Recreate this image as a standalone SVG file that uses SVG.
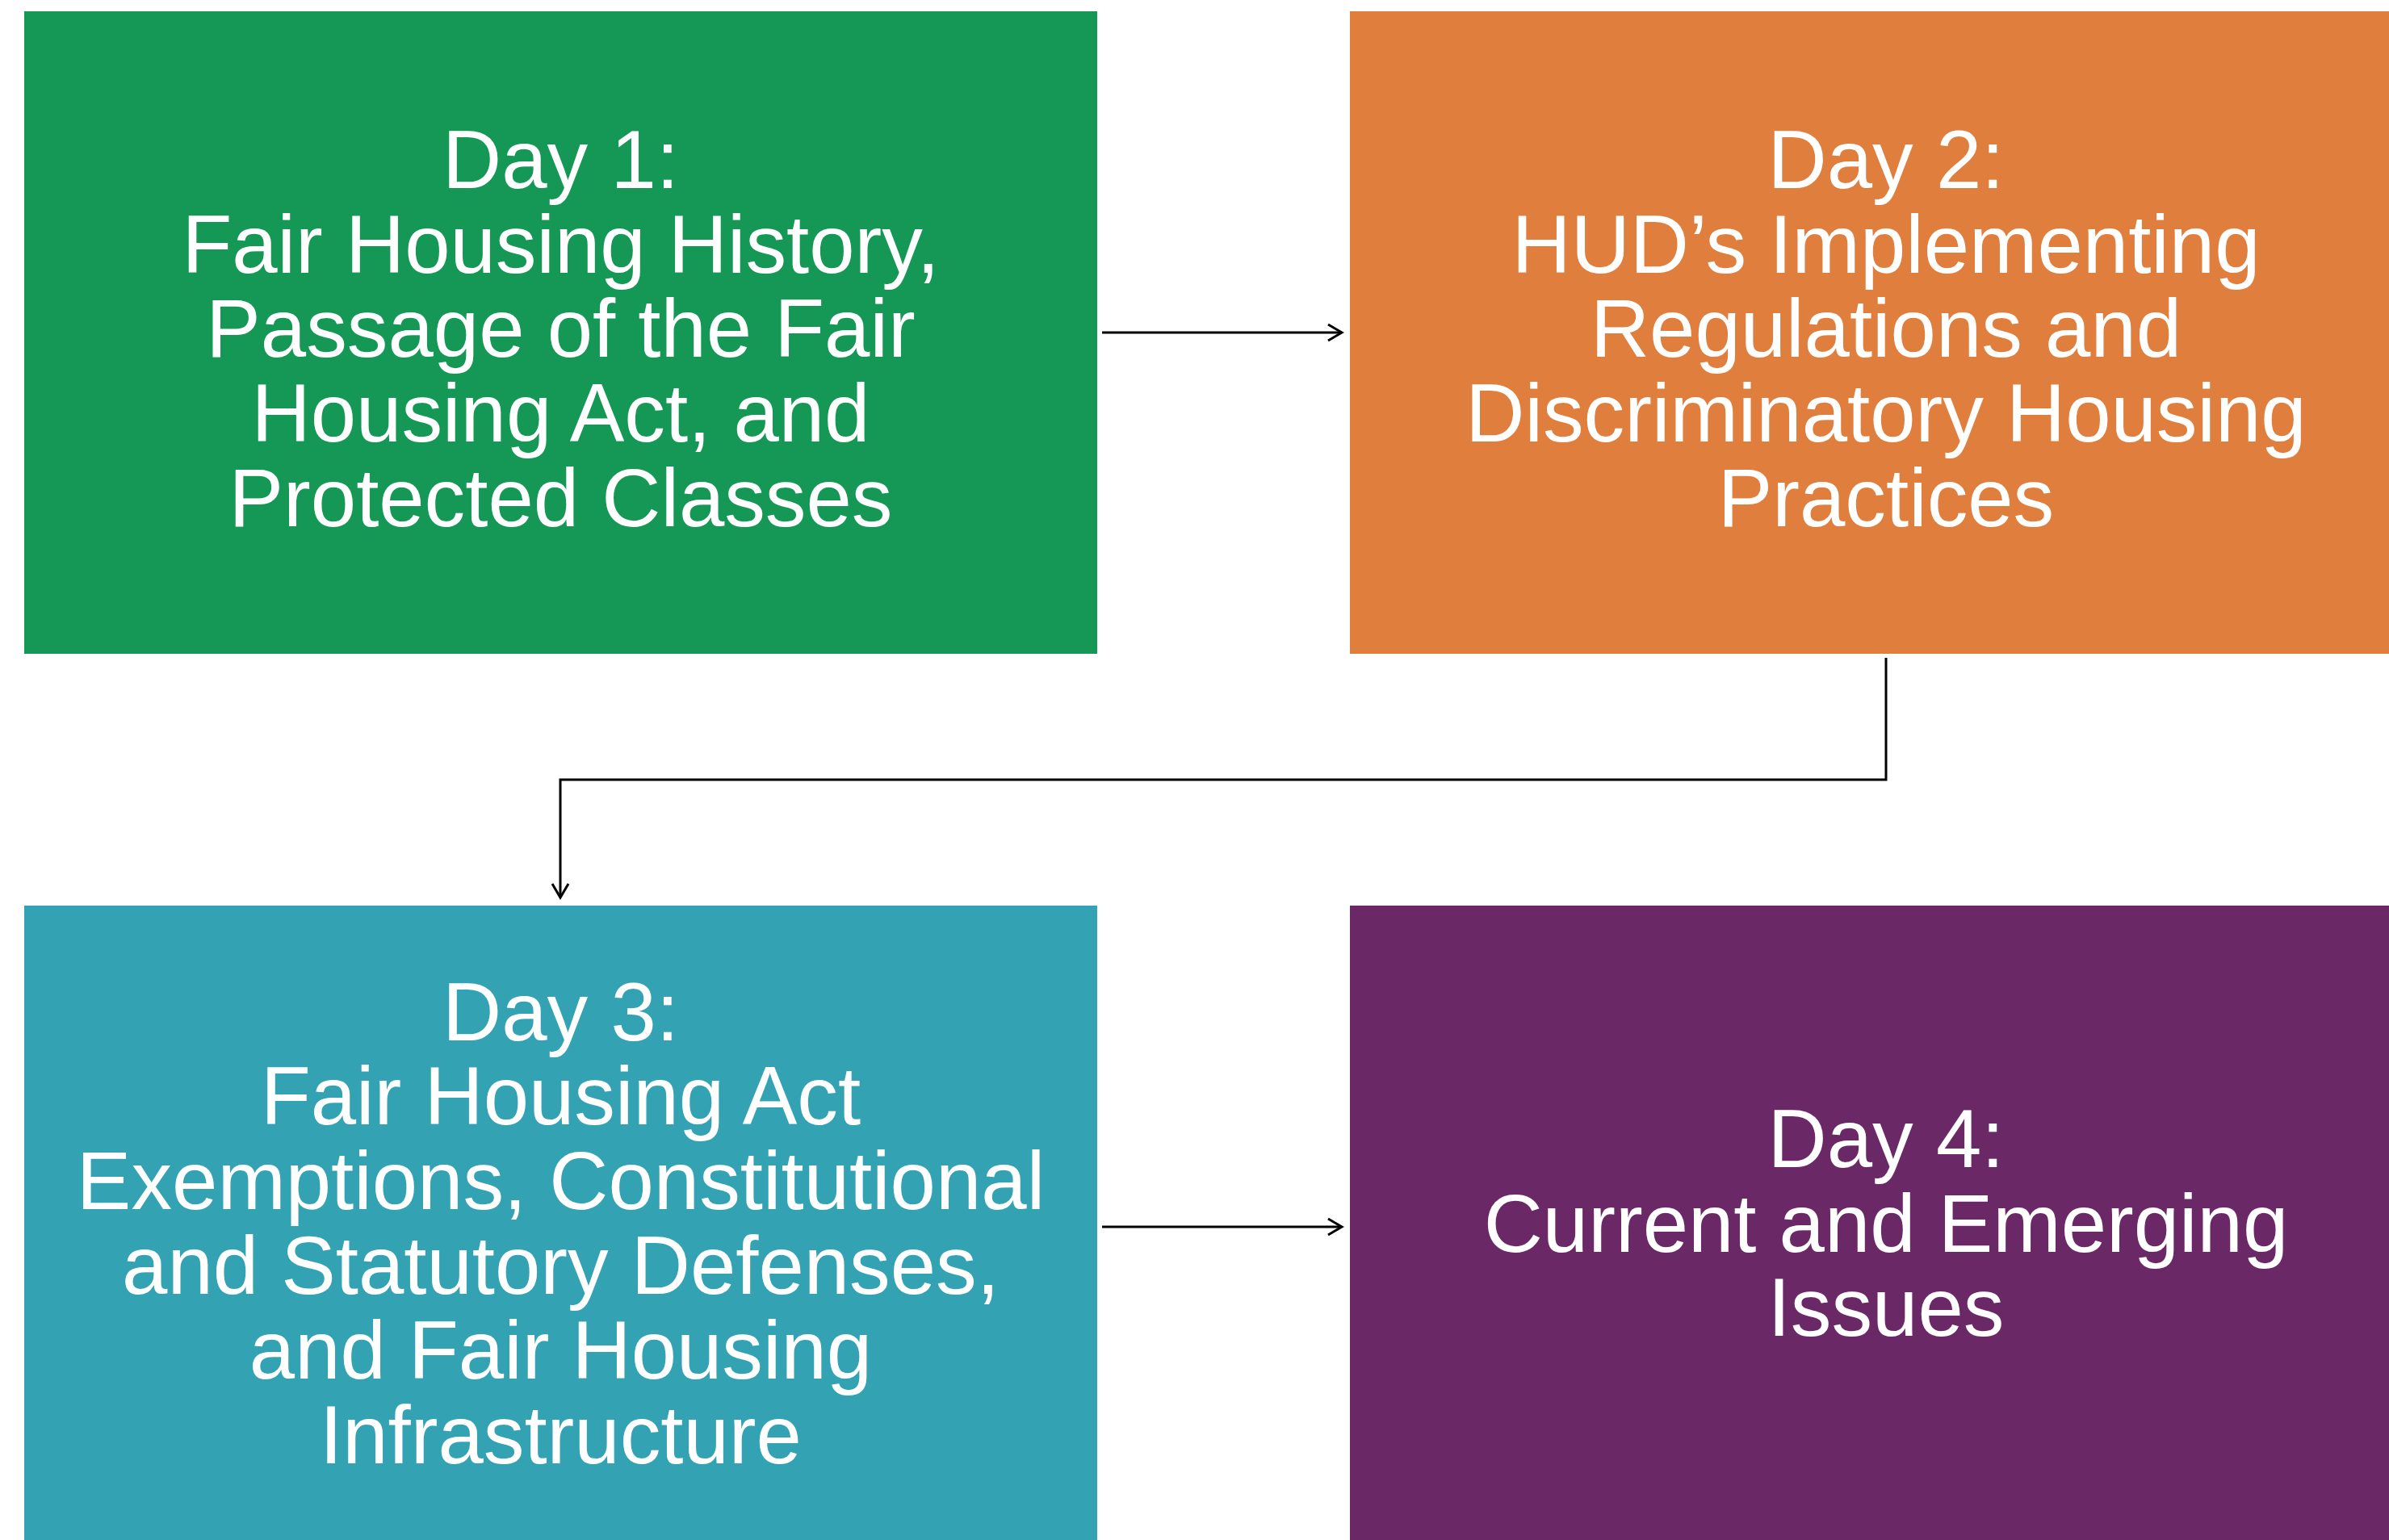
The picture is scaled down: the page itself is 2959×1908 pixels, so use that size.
<svg xmlns="http://www.w3.org/2000/svg" width="2959" height="1908" viewBox="0 0 2959 1908">
<style>
.lbl{font-family:"Liberation Sans",Arial,sans-serif;font-size:101.3px;fill:#ffffff;text-anchor:middle}
.conn{fill:none;stroke:#000000;stroke-width:3}
</style>
<defs>
<marker id="arr" markerUnits="userSpaceOnUse" markerWidth="22" markerHeight="24" refX="19" refY="12" orient="auto">
<path d="M2,2 L19,12 L2,22" fill="none" stroke="#000000" stroke-width="3"/>
</marker>
</defs>
<rect width="2959" height="1908" fill="#ffffff"/>
<g id="day1">
<rect x="30" y="14" width="1329" height="796" fill="#159855"/>
<text class="lbl" x="694.5"><tspan x="694.5" y="233">Day 1:</tspan><tspan x="694.5" y="338">Fair Housing History,</tspan><tspan x="694.5" y="442">Passage of the Fair</tspan><tspan x="694.5" y="547">Housing Act, and</tspan><tspan x="694.5" y="652">Protected Classes</tspan></text>
</g>
<g id="day2">
<rect x="1672" y="14" width="1329" height="796" fill="#DF7E3D"/>
<text class="lbl" x="2336"><tspan x="2336" y="233">Day 2:</tspan><tspan x="2336" y="338">HUD’s Implementing</tspan><tspan x="2336" y="442">Regulations and</tspan><tspan x="2336" y="547">Discriminatory Housing</tspan><tspan x="2336" y="652">Practices</tspan></text>
</g>
<g id="day3">
<rect x="30" y="1122" width="1329" height="796" fill="#33A3B3"/>
<text class="lbl" x="694.5"><tspan x="694.5" y="1289">Day 3:</tspan><tspan x="694.5" y="1393">Fair Housing Act</tspan><tspan x="694.5" y="1498">Exemptions, Constitutional</tspan><tspan x="694.5" y="1603">and Statutory Defenses,</tspan><tspan x="694.5" y="1708">and Fair Housing</tspan><tspan x="694.5" y="1813">Infrastructure</tspan></text>
</g>
<g id="day4">
<rect x="1672" y="1122" width="1329" height="796" fill="#6A2966"/>
<text class="lbl" x="2336"><tspan x="2336" y="1446">Day 4:</tspan><tspan x="2336" y="1551">Current and Emerging</tspan><tspan x="2336" y="1655">Issues</tspan></text>
</g>
<g id="connectors">
<line class="conn" x1="1365" y1="412" x2="1662" y2="412" marker-end="url(#arr)"/>
<polyline class="conn" points="2336,815 2336,966 694,966 694,1112" marker-end="url(#arr)"/>
<line class="conn" x1="1365" y1="1520" x2="1662" y2="1520" marker-end="url(#arr)"/>
</g>
</svg>
